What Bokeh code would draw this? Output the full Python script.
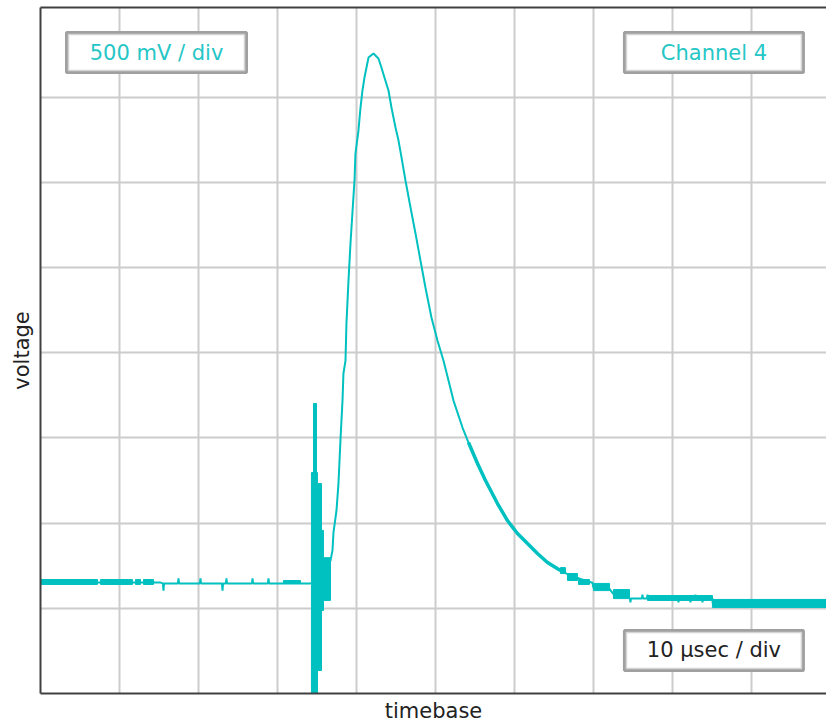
import math
from bokeh.plotting import figure
from bokeh.models import Range1d, FixedTicker, LinearAxis, Label, BoxAnnotation, ColumnDataSource
from bokeh.embed import file_html
from bokeh.resources import INLINE

# ---- data (time in microseconds, voltage in volts) ----
t_us = [0.00, 15.19, 15.50, 15.57, 15.64,
        17.40, 17.47, 17.54,
        20.18, 20.25, 20.32,
        22.97, 23.04, 23.11,
        23.47, 23.54, 23.61,
        26.77, 26.84, 26.91,
        28.79, 28.86, 28.93,
        34.30,
        36.71, 36.96, 37.09, 37.47, 37.72, 37.97, 38.23, 38.35, 38.61, 38.73,
        38.99, 39.24, 39.49, 39.75, 39.87, 40.25, 40.51, 40.76, 41.01, 41.27,
        41.52, 42.15, 42.78, 43.16, 43.54, 44.05, 44.43, 44.94, 45.32, 45.70,
        46.20, 46.84, 47.47, 48.10, 48.73, 49.49, 50.25, 51.01, 51.65, 52.28,
        53.42, 54.18, 55.32, 56.33, 57.85, 59.11, 60.38, 61.65, 62.91, 64.18,
        65.82, 66.71, 68.35, 69.87, 70.00, 72.00, 72.50, 74.43, 74.50,
        74.61, 74.68, 74.75,
        76.13, 76.20, 76.27,
        76.77, 76.84, 76.91,
        80.69, 80.76, 80.83,
        82.21, 82.28, 82.35,
        82.84, 82.91, 82.98,
        83.73, 83.80, 83.87,
        85.06, 85.10, 99.50]
v_volt = [-1.349, -1.349, -1.354, -1.396, -1.354,
          -1.354, -1.325, -1.354,
          -1.354, -1.325, -1.354,
          -1.354, -1.396, -1.354,
          -1.354, -1.325, -1.354,
          -1.354, -1.325, -1.354,
          -1.354, -1.325, -1.354,
          -1.354,
          -1.220, -1.161, -1.055, -0.926, -0.768, -0.515, -0.281, -0.122, -0.046, 0.171,
          0.424, 0.641, 0.823, 1.011, 1.169, 1.304, 1.439, 1.539, 1.615, 1.674,
          1.732, 1.756, 1.727, 1.674, 1.615, 1.539, 1.439, 1.322, 1.245, 1.146,
          1.011, 0.852, 0.700, 0.541, 0.383, 0.207, 0.072, -0.046, -0.163, -0.281,
          -0.439, -0.527, -0.650, -0.750, -0.885, -0.985, -1.061, -1.120, -1.178, -1.231,
          -1.278, -1.300, -1.328, -1.350, -1.380, -1.385, -1.415, -1.425, -1.440,
          -1.442, -1.465, -1.442,
          -1.442, -1.420, -1.442,
          -1.442, -1.420, -1.442,
          -1.442, -1.465, -1.442,
          -1.442, -1.465, -1.442,
          -1.442, -1.420, -1.442,
          -1.442, -1.465, -1.442,
          -1.442, -1.470, -1.470]

# noisy stretches of the trace (sample bands): start/end time, low/high voltage
band_t0 = [0.00, 7.59, 12.03, 13.04, 30.76,
           34.30, 34.56, 35.06, 35.57, 35.82,
           65.82, 66.71, 68.10, 70.00, 72.53, 76.84, 85.06]
band_t1 = [7.22, 11.64, 12.66, 14.30, 32.91,
           35.06, 34.94, 35.57, 35.82, 36.71,
           66.45, 67.97, 69.49, 72.03, 74.56, 85.06, 99.50]
band_v0 = [-1.360, -1.360, -1.360, -1.360, -1.354,
           -2.100, -0.703, -1.865, -1.513, -1.454,
           -1.296, -1.337, -1.360, -1.396, -1.443, -1.454, -1.495]
band_v1 = [-1.331, -1.331, -1.331, -1.331, -1.337,
           -0.703, -0.298, -0.768, -1.043, -1.203,
           -1.261, -1.296, -1.331, -1.354, -1.390, -1.425, -1.448]

x_grid = [10, 20, 30, 40, 50, 60, 70, 80, 90]
y_grid = [-1.5, -1.0, -0.5, 0.0, 0.5, 1.0, 1.5]

TRACE = "#00c0c0"
CYAN_TXT = "#26c6c6"
FONT = "DejaVu Sans"

p = figure(width=826, height=726, x_range=Range1d(0, 99.5), y_range=Range1d(-2.0, 2.026),
           output_backend="svg", toolbar_location=None,
           min_border_left=40, min_border_right=0, min_border_top=7, min_border_bottom=33)
p.background_fill_color = "white"
p.border_fill_color = "white"
p.outline_line_color = None

bottom_ax = p.below[0]
left_ax = p.left[0]
top_ax = LinearAxis()
p.add_layout(top_ax, "above")
for ax in [bottom_ax, left_ax, top_ax]:
    ax.ticker = FixedTicker(ticks=[])
    ax.axis_line_color = "#404040"
    ax.axis_line_width = 2
    ax.major_tick_line_color = None
    ax.minor_tick_line_color = None
    ax.major_tick_out = 0
    ax.major_tick_in = 0
    ax.minor_tick_out = 0
    ax.minor_tick_in = 0
    ax.major_label_standoff = 0
    ax.major_label_text_font_size = "0px"

for ax, lab in [(bottom_ax, "timebase"), (left_ax, "voltage")]:
    ax.axis_label = lab
    ax.axis_label_text_font = FONT
    ax.axis_label_text_font_size = "21px"
    ax.axis_label_text_font_style = "normal"
    ax.axis_label_text_color = "#222222"
bottom_ax.axis_label_standoff = 5
left_ax.axis_label_standoff = 7

p.xgrid.ticker = FixedTicker(ticks=x_grid)
p.ygrid.ticker = FixedTicker(ticks=y_grid)
p.grid.grid_line_color = "#cccccc"
p.grid.grid_line_width = 2

src = ColumnDataSource(dict(t=t_us, v=v_volt))
p.line("t", "v", source=src, line_color=TRACE, line_width=2)
tail = [(t, v) for t, v in zip(t_us, v_volt) if 54.0 <= t <= 66.0]
p.line([a for a, b in tail], [b for a, b in tail], line_color=TRACE, line_width=3.5)
p.quad(left=band_t0, right=band_t1, bottom=band_v0, top=band_v1,
       fill_color=TRACE, line_color=TRACE, line_width=1)

# pixel -> data helpers for annotation placement
px_t = 99.5 / 786.0
px_v = 4.026 / 686.0

def boxed(l, r, b, t, text, color):
    p.add_layout(BoxAnnotation(left=l, right=r, bottom=b, top=t, fill_color="white", fill_alpha=1.0,
                               line_color="#a0a0a0", line_width=3, line_alpha=1.0))
    p.add_layout(BoxAnnotation(left=l + 2 * px_t, right=r - 2 * px_t, bottom=b + 2 * px_v, top=t - 2 * px_v,
                               fill_alpha=0, line_color="#d4d4d4", line_width=1.5, line_alpha=1.0))
    p.add_layout(Label(x=(l + r) / 2, y=(b + t) / 2, text=text, text_align="center", text_baseline="middle",
                       text_font=FONT, text_font_size="21px", text_color=color))

boxed(3.29, 26.08, 1.644, 1.879, "500 mV / div", CYAN_TXT)
boxed(73.92, 96.58, 1.644, 1.879, "Channel 4", CYAN_TXT)
boxed(73.92, 96.58, -1.865, -1.630, "10 µsec / div", "#222222")

open("out.html", "w").write(file_html(p, INLINE))
